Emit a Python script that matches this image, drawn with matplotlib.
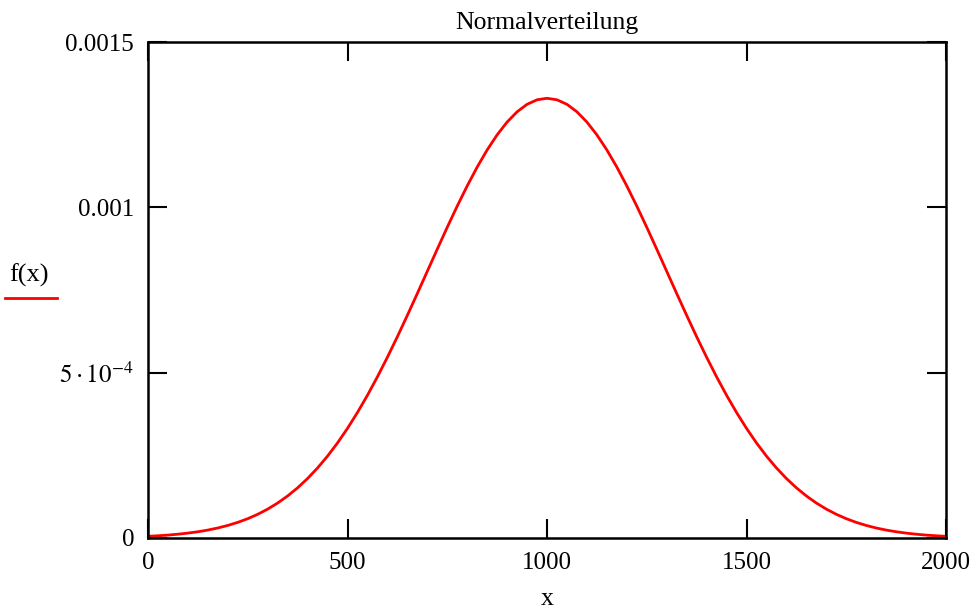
import matplotlib
matplotlib.use("Agg")
import matplotlib.pyplot as plt

plt.rcParams["font.family"] = ["Liberation Serif", "DejaVu Serif"]
plt.rcParams["mathtext.fontset"] = "stix"

# f(x) every 25 units of x (left half up to the peak at x=1000)
x = list(range(0, 2001, 25))
half = [0.0051e-3, 0.0068e-3, 0.0088e-3, 0.0115e-3, 0.0148e-3, 0.0189e-3, 0.0240e-3,
        0.0303e-3, 0.0380e-3, 0.0473e-3, 0.0584e-3, 0.0717e-3, 0.0874e-3, 0.1058e-3,
        0.1272e-3, 0.1518e-3, 0.1800e-3, 0.2119e-3, 0.2477e-3, 0.2876e-3, 0.3316e-3,
        0.3797e-3, 0.4317e-3, 0.4875e-3, 0.5467e-3, 0.6088e-3, 0.6734e-3, 0.7395e-3,
        0.8066e-3, 0.8736e-3, 0.9398e-3, 1.0038e-3, 1.0648e-3, 1.1218e-3, 1.1736e-3,
        1.2192e-3, 1.2579e-3, 1.2889e-3, 1.3115e-3, 1.3252e-3]
peak = 1.3298e-3
fx = half + [peak] + half[::-1]

xticks = [0, 500, 1000, 1500, 2000]
yticks = [0, 5e-4, 1e-3, 1.5e-3]
ylabels = ["0", r"$5\cdot10^{-4}$", "0.001", "0.0015"]

fig = plt.figure(figsize=(9.77, 6.10), dpi=100)
ax = fig.add_axes([148 / 977, 1 - 538 / 610, (946 - 148) / 977, (538 - 42) / 610])
ax.plot(x, fx, color="#ff0000", lw=2.0)
ax.set_xlim(0, 2000)
ax.set_ylim(0, 0.0015)
ax.set_xticks(xticks)
ax.set_xticklabels([str(t) for t in xticks])
ax.set_yticks(yticks)
ax.set_yticklabels(ylabels)
ax.tick_params(direction="in", length=14, width=1.5, top=True, right=True,
               labelsize=18, pad=10, colors="black")
for s in ax.spines.values():
    s.set_linewidth(1.8)
ax.set_title("Normalverteilung", fontsize=18.5, pad=9)
ax.set_xlabel("x", fontsize=18.5, labelpad=10)

fig.text(29 / 977, 1 - 275 / 610, "f(x)", fontsize=19, ha="center", va="center")
fig.add_artist(plt.Line2D([5 / 977, 57 / 977], [1 - 298 / 610] * 2,
                          color="#ff0000", lw=2.0))

fig.savefig("out.png", dpi=100)
